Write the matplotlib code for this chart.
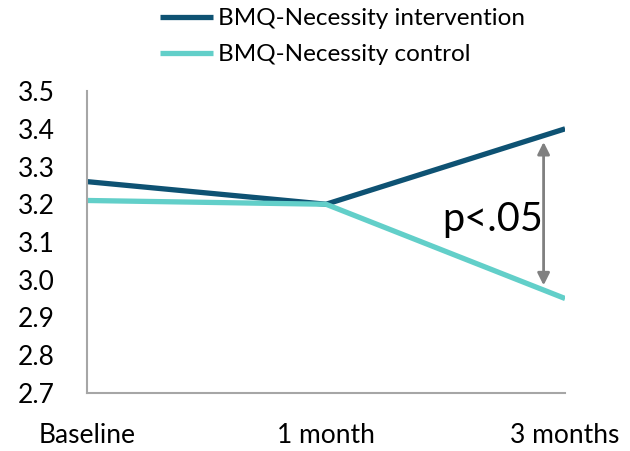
import matplotlib
matplotlib.use("Agg")
import matplotlib.pyplot as plt

# dados
momentos = ["Baseline", "1 month", "3 months"]
intervencao = [3.26, 3.20, 3.40]
controle = [3.21, 3.20, 2.95]
seta_topo = 3.365
seta_base = 2.985

plt.rcParams["font.family"] = ["Lato", "DejaVu Sans"]

fig = plt.figure(figsize=(6.3, 4.51), dpi=100)
ax = fig.add_axes([0.138, 0.129, 0.759, 0.669])

x = list(range(len(momentos)))
ax.plot(x, intervencao, color="#0e5273", linewidth=3.8, label="BMQ-Necessity intervention",
        solid_capstyle="butt")
ax.plot(x, controle, color="#62cfc9", linewidth=3.8, label="BMQ-Necessity control",
        solid_capstyle="butt")

ax.annotate("", xy=(1.91, seta_topo), xytext=(1.91, seta_base),
            arrowprops=dict(arrowstyle="<|-|>", color="#808080", lw=2,
                            mutation_scale=18, shrinkA=0, shrinkB=0))
ax.text(1.695, 3.16, "p<.05", fontsize=28.5, ha="center", va="center", color="black")

ax.set_xlim(0, 2)
ax.set_ylim(2.7, 3.5)
ax.set_yticks([2.7 + 0.1 * i for i in range(9)])
ax.set_yticklabels(["%.1f" % (2.7 + 0.1 * i) for i in range(9)], fontsize=19)
ax.set_xticks(x)
ax.set_xticklabels(momentos, fontsize=19)
ax.tick_params(axis="x", length=0, pad=22)
ax.tick_params(axis="y", length=0, pad=50)
for lbl in ax.get_yticklabels():
    lbl.set_horizontalalignment("left")

for lado in ("top", "right"):
    ax.spines[lado].set_visible(False)
for lado in ("left", "bottom"):
    ax.spines[lado].set_color("#a6a6a6")
    ax.spines[lado].set_linewidth(1.5)

fig.legend(loc="upper left", bbox_to_anchor=(160 / 630, 1 - 8 / 451), frameon=False,
           fontsize=17.5, handlelength=2.2, handletextpad=0.2, labelspacing=0.62,
           borderpad=0, borderaxespad=0)

fig.savefig("out.png", dpi=100)
